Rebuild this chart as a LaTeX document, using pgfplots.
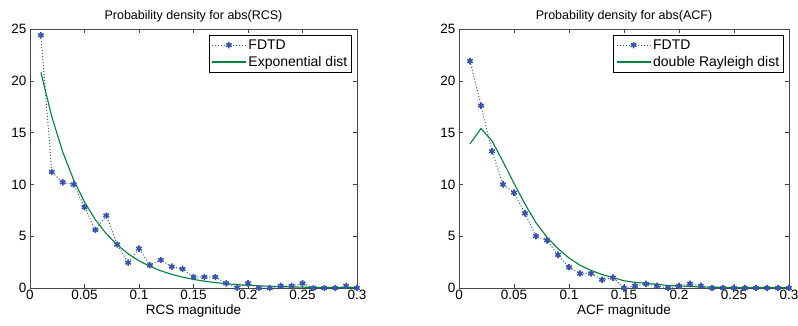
\documentclass[border=0pt]{standalone}
\usepackage{pgfplots}
\pgfplotsset{compat=1.18}
\usepackage{fontspec}
\setmainfont{Liberation Sans}
\definecolor{fblue}{RGB}{55,85,175}
\definecolor{fgreen}{RGB}{0,130,55}
\definecolor{axgray}{RGB}{70,70,70}
\pgfplotsset{
  myax/.style={
    scale only axis, height=259pt,
    xmin=0, xmax=0.3, ymin=0, ymax=25,
    xtick={0,0.05,0.1,0.15,0.2,0.25,0.3},
    xticklabels={0,0.05,0.1,0.15,0.2,0.25,0.3},
    ytick={0,5,10,15,20,25},
    tick align=inside, tick pos=both,
    major tick length=4pt,
    axis line style={axgray, line width=0.6pt},
    every tick/.style={axgray, line width=0.6pt},
    /pgf/number format/assume math mode=true,
    tick label style={font=\fontsize{13.5}{15}\selectfont},
    xticklabel style={yshift=1pt},
    label style={font=\fontsize{13.5}{15}\selectfont},
    title style={font=\fontsize{12.5}{14}\selectfont, yshift=-3pt},
    xlabel style={yshift=2pt},
    legend style={at={(0.985,0.978)}, anchor=north east, draw=black, line width=0.6pt,
      font=\fontsize{14}{16}\selectfont, inner sep=2.5pt, row sep=1.5pt,
      cells={anchor=west}},
    legend cell align=left,
    legend image code/.code={\draw[mark repeat=2,mark phase=2] plot coordinates {(0pt,0pt) (17pt,0pt) (34pt,0pt)};},
  },
  fd/.style={fblue, dotted, line width=1pt, mark=asterisk, mark size=3.2pt,
    mark options={solid, line width=1.6pt}},
  fit/.style={fgreen, line width=1.1pt, no marks},
}
\begin{document}
\begin{tikzpicture}
\useasboundingbox (0,0) rectangle (798pt,325pt);
\begin{axis}[myax, at={(30pt,37pt)}, anchor=south west, width=327pt,
  title={Probability density for abs(RCS)}, xlabel={RCS magnitude}]
\addplot[fd] coordinates {
(0.01,24.4) (0.02,11.2) (0.03,10.2) (0.04,10.0) (0.05,7.8) (0.06,5.6) (0.07,7.0)
(0.08,4.2) (0.09,2.45) (0.10,3.8) (0.11,2.2) (0.12,2.7) (0.13,2.06) (0.14,1.84)
(0.15,1.06) (0.16,1.06) (0.17,1.06) (0.18,0.45) (0.19,0.03) (0.20,0.45) (0.21,0)
(0.22,0) (0.23,0.2) (0.24,0.2) (0.25,0.45) (0.26,0) (0.27,0) (0.28,0) (0.29,0.2) (0.30,0)};
\addlegendentry{FDTD}
\addplot[fit] coordinates {
(0.01,20.82) (0.02,16.54) (0.03,13.14) (0.04,10.44) (0.05,8.30) (0.06,6.59) (0.07,5.24)
(0.08,4.16) (0.09,3.31) (0.10,2.63) (0.11,2.09) (0.12,1.66) (0.13,1.32) (0.14,1.05)
(0.15,0.83) (0.16,0.66) (0.17,0.52) (0.18,0.42) (0.19,0.33) (0.20,0.26) (0.21,0.21)
(0.22,0.17) (0.23,0.13) (0.24,0.11) (0.25,0.08) (0.26,0.07) (0.27,0.05) (0.28,0.04)
(0.29,0.03) (0.30,0.03)};
\addlegendentry{Exponential dist}
\end{axis}
\begin{axis}[myax, at={(459pt,37pt)}, anchor=south west, width=330pt,
  title={Probability density for abs(ACF)}, xlabel={ACF magnitude}]
\addplot[fd] coordinates {
(0.01,21.9) (0.02,17.6) (0.03,13.2) (0.04,10.0) (0.05,9.2) (0.06,7.2) (0.07,5.0)
(0.08,4.6) (0.09,3.2) (0.10,2.0) (0.11,1.4) (0.12,1.4) (0.13,0.8) (0.14,1.0)
(0.15,0) (0.16,0.2) (0.17,0.4) (0.18,0.2) (0.19,0) (0.20,0.2) (0.21,0.4) (0.22,0.2)
(0.23,0) (0.24,0) (0.25,0) (0.26,0) (0.27,0) (0.28,0) (0.29,0) (0.30,0)};
\addlegendentry{FDTD}
\addplot[fit] coordinates {
(0.01,13.9) (0.02,15.4) (0.03,14.2) (0.04,12.2) (0.05,10.1) (0.06,8.1) (0.07,6.3)
(0.08,4.9) (0.09,3.8) (0.10,2.9) (0.11,2.2) (0.12,1.7) (0.13,1.3) (0.14,1.0)
(0.15,0.7) (0.16,0.55) (0.17,0.45) (0.18,0.35) (0.19,0.25) (0.20,0.2) (0.21,0.15)
(0.22,0.1) (0.23,0.08) (0.24,0.06) (0.25,0.05) (0.26,0.04) (0.27,0.03) (0.28,0.03)
(0.29,0.02) (0.30,0.02)};
\addlegendentry{double Rayleigh dist}
\end{axis}
\end{tikzpicture}
\end{document}
